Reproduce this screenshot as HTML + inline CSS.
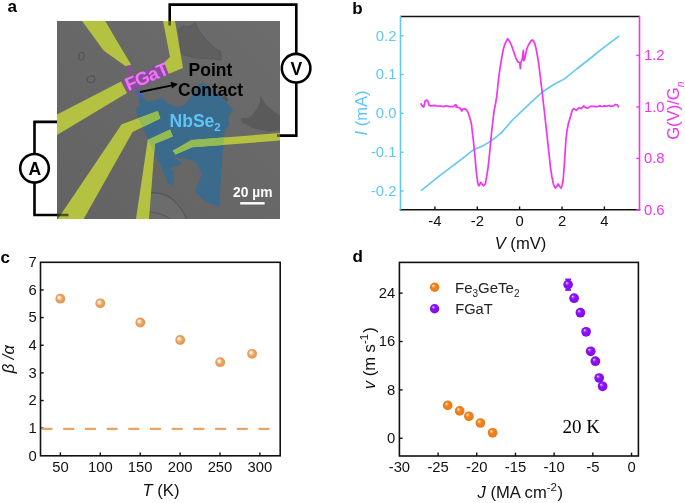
<!DOCTYPE html>
<html><head><meta charset="utf-8"><title>figure</title>
<style>
html,body{margin:0;padding:0;background:#fff;}
body{width:685px;height:503px;overflow:hidden;font-family:"Liberation Sans", sans-serif;}
svg{display:block;will-change:transform;}
</style></head>
<body>
<svg width="685" height="503" viewBox="0 0 685 503">
<rect width="685" height="503" fill="#fff"/>
<defs>
<radialGradient id="gc" cx="0.5" cy="0.5" r="0.5" fx="0.33" fy="0.33">
 <stop offset="0" stop-color="#fffcf8"/>
 <stop offset="0.3" stop-color="#f8dcc0"/>
 <stop offset="0.55" stop-color="#eca466"/>
 <stop offset="1" stop-color="#e39450"/>
</radialGradient>
<radialGradient id="go" cx="0.5" cy="0.5" r="0.5" fx="0.33" fy="0.3">
 <stop offset="0" stop-color="#fff4e6"/>
 <stop offset="0.22" stop-color="#f8b46c"/>
 <stop offset="0.45" stop-color="#f0801e"/>
 <stop offset="1" stop-color="#ec7a18"/>
</radialGradient>
<radialGradient id="gp" cx="0.5" cy="0.5" r="0.5" fx="0.33" fy="0.3">
 <stop offset="0" stop-color="#f6ecff"/>
 <stop offset="0.2" stop-color="#b562ff"/>
 <stop offset="0.42" stop-color="#8c12f6"/>
 <stop offset="1" stop-color="#820cee"/>
</radialGradient>
<linearGradient id="bgg" x1="0" y1="1" x2="1" y2="0"><stop offset="0" stop-color="#636363"/><stop offset="1" stop-color="#6c6c6c"/></linearGradient>
<clipPath id="mclip"><rect x="57" y="21" width="223" height="198"/></clipPath>
</defs>
<text x="7.6" y="11.6" font-size="17" fill="#000" text-anchor="start" font-weight="bold" font-style="normal" font-family='"Liberation Sans", sans-serif' >a</text>
<g clip-path="url(#mclip)">
<rect x="57" y="21" width="223" height="198" fill="url(#bgg)"/>
<polygon points="178.7,29.2 183.3,26.1 189.4,26.6 195.5,23.1 198.6,30.2 205.8,39.4 213.9,47.6 220.6,51.7 221.1,59.9 210.9,58.8 195.5,57.8 183.3,54.7 181.2,52.7" fill="#5f5f5f" stroke="#545454" stroke-width="0.7"/>
<polygon points="260,95.3 266.6,105.2 274.2,111.7 280,115 280,130.3 268.7,131.4 252.3,128.1 242.5,122.6 240.3,118.3 249,117.7 253.4,113.9 257.8,107.3 260,101.9" fill="#5a5a5a" />
<g fill="none" stroke="#4a4a4a" stroke-width="0.8"><path d="M79,54 Q80,52 83,52.5 Q85,55 83.5,59 Q81,61 79,59.5 Z"/><path d="M87,78 Q90,75 94,76 Q96,79 94,82 Q90,84 87.5,81.5 Z"/></g>
<polygon points="150,192.5 162,194 171.3,198.4 177,202 181.8,208 185,213 187.5,219 150,219" fill="#6c6c6c" />
<path d="M151,192.6 Q165,193 172,199 Q180,205 187,219" fill="none" stroke="#4e4e4e" stroke-width="1"/>
<path d="M150,212 Q162,213 170,219" fill="none" stroke="#555" stroke-width="1"/>
<polygon points="220.5,97.5 225.5,95.8 228.5,100 224.5,103" fill="#565656" />
<g id="flake">
<polygon points="138.8,96.5 143.1,97.3 147.5,102.1 162.4,98.1 166.8,102.5 172,105.6 179,106.9 184.3,104.7 190,98.1 199,84 204,83 217,93 226,101 233,110.5 228,117.5 229.5,125 225,130 223,148 220.5,184 219.5,207 205,201.5 194.5,191 199,182 201.5,175 197,163 189,159.5 173,157 181,162.5 180,165 169.5,168.5 173,171 174,178 173,185.5 167.5,183 161,166 155,155 148,139 142,126 137,116.5 136.1,108.2 139.6,106" fill="#3a6b8d" />
</g>
<polygon points="82,21 105.3,21 118.7,43.9 131.2,64.7 125.7,66.3 103.8,50.8" fill="#b4c141" />
<polygon points="163,21 175,21 183,68 168.6,74 164,62.8 170,57" fill="#b4c141" />
<polygon points="57,114.5 121,81.5 127,93 57,135" fill="#b4c141" />
<polygon points="57.5,219.5 121.7,124.2 157.8,111.1 160.3,118.6 132.6,131.9 83.4,219.5" fill="#b4c141" />
<polygon points="135.9,219.5 147.7,140 170,129.4 172.8,136.5 154.9,143.7 149,219.5" fill="#b4c141" />
<polygon points="280,133 280,140.6 192.4,147.3 175.5,154.4 172.8,150.8 191.6,140" fill="#b4c141" />
<clipPath id="fclip"><polygon points="138.8,96.5 143.1,97.3 147.5,102.1 162.4,98.1 166.8,102.5 172,105.6 179,106.9 184.3,104.7 190,98.1 199,84 204,83 217,93 226,101 233,110.5 228,117.5 229.5,125 225,130 223,148 220.5,184 219.5,207 205,201.5 194.5,191 199,182 201.5,175 197,163 189,159.5 173,157 181,162.5 180,165 169.5,168.5 173,171 174,178 173,185.5 167.5,183 161,166 155,155 148,139 142,126 137,116.5 136.1,108.2 139.6,106"/></clipPath>
<g clip-path="url(#fclip)">
<polygon points="82,21 105.3,21 118.7,43.9 131.2,64.7 125.7,66.3 103.8,50.8" fill="#93bb55" />
<polygon points="163,21 175,21 183,68 168.6,74 164,62.8 170,57" fill="#93bb55" />
<polygon points="57,114.5 121,81.5 127,93 57,135" fill="#93bb55" />
<polygon points="57.5,219.5 121.7,124.2 157.8,111.1 160.3,118.6 132.6,131.9 83.4,219.5" fill="#93bb55" />
<polygon points="135.9,219.5 147.7,140 170,129.4 172.8,136.5 154.9,143.7 149,219.5" fill="#93bb55" />
<polygon points="280,133 280,140.6 192.4,147.3 175.5,154.4 172.8,150.8 191.6,140" fill="#93bb55" />
</g>
<polygon points="126.3,66 131.5,65.3 132.8,76 130.8,77" fill="#8c4c9e" />
<polygon points="122.2,80.7 164,62.8 168.6,74 127.3,92.9" fill="#8c4c9e" />
<polygon points="136,89 139.5,90 143.8,96.3 137.6,97.5" fill="#4a62b6" />
<text x="0" y="0" font-size="18.5" letter-spacing="-0.6" font-weight="bold" fill="#f274f6" font-family='"Liberation Sans", sans-serif' transform="translate(128.2,91.2) rotate(-22.6)">FGaT</text>
<text x="169.6" y="127.3" font-size="17.5" font-weight="bold" fill="#5ac6f6" font-family='"Liberation Sans", sans-serif'>NbSe<tspan font-size="11.5" dy="3.8">2</tspan></text>
<text x="188.6" y="76.0" font-size="17.5" fill="#000" text-anchor="start" font-weight="bold" font-style="normal" font-family='"Liberation Sans", sans-serif' >Point</text>
<text x="178.0" y="95.9" font-size="17.5" fill="#000" text-anchor="start" font-weight="bold" font-style="normal" font-family='"Liberation Sans", sans-serif' >Contact</text>
<line x1="140" y1="92" x2="172" y2="85.3" stroke="#000" stroke-width="1.8" />
<polygon points="178,84 170.5,81.8 172,88.5" fill="#000" />
<text x="233.0" y="197.3" font-size="13.8" fill="#fff" text-anchor="start" font-weight="bold" font-style="normal" font-family='"Liberation Sans", sans-serif' >20 µm</text>
<rect x="240.2" y="202.1" width="24.4" height="2.4" fill="#fff"/>
<g stroke="#000" stroke-width="2.6" opacity="0.55">
<line x1="169.7" y1="21" x2="169.7" y2="25.5"/>
<line x1="280" y1="135.6" x2="277" y2="135.6"/>
<line x1="57" y1="215" x2="68.5" y2="215"/>
</g>
</g>
<g fill="none" stroke="#000" stroke-width="2.6">
<path d="M169.7,21 V4.6 H296.3 V53.9"/>
<path d="M296.3,82.5 V135.6 H280"/>
<circle cx="296.1" cy="68.2" r="14.3"/>
<path d="M57,121.9 H34.5 V154.1"/>
<path d="M34.5,182.5 V215 H57"/>
<circle cx="34.5" cy="168.3" r="14.3"/>
</g>
<text x="296.3" y="75.3" font-size="17.5" fill="#000" text-anchor="middle" font-weight="bold" font-style="normal" font-family='"Liberation Sans", sans-serif' >V</text>
<text x="34.8" y="174.6" font-size="17.5" fill="#000" text-anchor="middle" font-weight="bold" font-style="normal" font-family='"Liberation Sans", sans-serif' >A</text>
<text x="352.2" y="13.8" font-size="17" fill="#000" text-anchor="start" font-weight="bold" font-style="normal" font-family='"Liberation Sans", sans-serif' >b</text>
<line x1="400.5" y1="16.5" x2="639.5" y2="16.5" stroke="#111" stroke-width="1.6" />
<line x1="399.7" y1="209.8" x2="640.3" y2="209.8" stroke="#111" stroke-width="1.6" />
<line x1="400.5" y1="15.7" x2="400.5" y2="209.8" stroke="#62c7f3" stroke-width="1.6" />
<line x1="639.5" y1="15.7" x2="639.5" y2="210.60000000000002" stroke="#f035f0" stroke-width="1.6" />
<line x1="400.5" y1="35.7" x2="403.7" y2="35.7" stroke="#62c7f3" stroke-width="1.4" />
<text x="396.4" y="40.6" font-size="14.8" fill="#62c7f3" text-anchor="end" font-weight="normal" font-style="normal" font-family='"Liberation Sans", sans-serif' >0.2</text>
<line x1="400.5" y1="74.5" x2="403.7" y2="74.5" stroke="#62c7f3" stroke-width="1.4" />
<text x="396.4" y="79.4" font-size="14.8" fill="#62c7f3" text-anchor="end" font-weight="normal" font-style="normal" font-family='"Liberation Sans", sans-serif' >0.1</text>
<line x1="400.5" y1="113.3" x2="403.7" y2="113.3" stroke="#62c7f3" stroke-width="1.4" />
<text x="396.4" y="118.2" font-size="14.8" fill="#62c7f3" text-anchor="end" font-weight="normal" font-style="normal" font-family='"Liberation Sans", sans-serif' >0.0</text>
<line x1="400.5" y1="152.2" x2="403.7" y2="152.2" stroke="#62c7f3" stroke-width="1.4" />
<text x="396.4" y="157.1" font-size="14.8" fill="#62c7f3" text-anchor="end" font-weight="normal" font-style="normal" font-family='"Liberation Sans", sans-serif' >-0.1</text>
<line x1="400.5" y1="191.0" x2="403.7" y2="191.0" stroke="#62c7f3" stroke-width="1.4" />
<text x="396.4" y="195.9" font-size="14.8" fill="#62c7f3" text-anchor="end" font-weight="normal" font-style="normal" font-family='"Liberation Sans", sans-serif' >-0.2</text>
<line x1="636.3" y1="55.4" x2="639.5" y2="55.4" stroke="#f035f0" stroke-width="1.4" />
<text x="644.0" y="60.3" font-size="14.8" fill="#f035f0" text-anchor="start" font-weight="normal" font-style="normal" font-family='"Liberation Sans", sans-serif' >1.2</text>
<line x1="636.3" y1="106.9" x2="639.5" y2="106.9" stroke="#f035f0" stroke-width="1.4" />
<text x="644.0" y="111.80000000000001" font-size="14.8" fill="#f035f0" text-anchor="start" font-weight="normal" font-style="normal" font-family='"Liberation Sans", sans-serif' >1.0</text>
<line x1="636.3" y1="158.4" x2="639.5" y2="158.4" stroke="#f035f0" stroke-width="1.4" />
<text x="644.0" y="163.3" font-size="14.8" fill="#f035f0" text-anchor="start" font-weight="normal" font-style="normal" font-family='"Liberation Sans", sans-serif' >0.8</text>
<line x1="636.3" y1="209.8" x2="639.5" y2="209.8" stroke="#f035f0" stroke-width="1.4" />
<text x="644.0" y="214.70000000000002" font-size="14.8" fill="#f035f0" text-anchor="start" font-weight="normal" font-style="normal" font-family='"Liberation Sans", sans-serif' >0.6</text>
<line x1="434.9" y1="209.8" x2="434.9" y2="206.4" stroke="#111" stroke-width="1.4" />
<text x="434.9" y="226.4" font-size="14.8" fill="#111" text-anchor="middle" font-weight="normal" font-style="normal" font-family='"Liberation Sans", sans-serif' >-4</text>
<line x1="477.3" y1="209.8" x2="477.3" y2="206.4" stroke="#111" stroke-width="1.4" />
<text x="477.3" y="226.4" font-size="14.8" fill="#111" text-anchor="middle" font-weight="normal" font-style="normal" font-family='"Liberation Sans", sans-serif' >-2</text>
<line x1="519.6" y1="209.8" x2="519.6" y2="206.4" stroke="#111" stroke-width="1.4" />
<text x="519.6" y="226.4" font-size="14.8" fill="#111" text-anchor="middle" font-weight="normal" font-style="normal" font-family='"Liberation Sans", sans-serif' >0</text>
<line x1="562.0" y1="209.8" x2="562.0" y2="206.4" stroke="#111" stroke-width="1.4" />
<text x="562.0" y="226.4" font-size="14.8" fill="#111" text-anchor="middle" font-weight="normal" font-style="normal" font-family='"Liberation Sans", sans-serif' >2</text>
<line x1="604.4" y1="209.8" x2="604.4" y2="206.4" stroke="#111" stroke-width="1.4" />
<text x="604.4" y="226.4" font-size="14.8" fill="#111" text-anchor="middle" font-weight="normal" font-style="normal" font-family='"Liberation Sans", sans-serif' >4</text>
<text x="520.5" y="248.5" font-size="16.6" fill="#111" text-anchor="middle" font-family='"Liberation Sans", sans-serif'><tspan font-style="italic">V</tspan> (mV)</text>
<text transform="translate(367.3,113) rotate(-90)" font-size="16.6" fill="#62c7f3" text-anchor="middle" font-family='"Liberation Sans", sans-serif'><tspan font-style="italic">I</tspan> (mA)</text>
<text transform="translate(679,139.8) rotate(-90)" font-size="16.6" fill="#f035f0" text-anchor="start" font-family='"Liberation Sans", sans-serif'>G(V)/G<tspan font-size="10.5" font-style="italic" dy="4.8">n</tspan></text>
<polyline points="421.4,190.4 439.8,175.7 459,161.2 473.1,150.1 483.6,145.4 491.5,140.7 501.1,133.1 512.5,120 520,112.9 530,103.3 542.3,92 553,85 564.5,78.9 576,69.5 588.2,60 603,48.2 618.6,36.3" fill="none" stroke="#62c7f3" stroke-width="1.6" stroke-linejoin="round" stroke-linecap="round" />
<polyline points="421.1,104 422.5,106 423.8,107.1 424.5,104 425.1,101 426.4,100.1 427.3,100.6 428.1,101.4 428.6,103.5 429,105.3 431.2,105.8 434,105.4 436.9,105.9 440.4,106.2 443.9,106.6 446.5,105.8 450,106.6 453.5,106.6 455.3,104.9 456.6,105.4 457,106.4 456,107 458.8,107.5 460.5,108.8 461.8,111 463.2,108.8 465.3,108.8 467.1,110.6 468.2,113 469.3,116.3 470.4,120 471.5,124.2 472.3,131.8 473.3,140 474.3,149.7 475.2,159 475.9,167.6 476.7,175 477.5,181.5 478.2,184.5 478.9,185.8 480,184 480.9,182.5 482,184 483.4,185.8 484.5,185 485.4,183.5 486.6,177 487.8,169.5 488.8,161 489.8,151.7 490.8,141 491.8,129.8 493,120 494.2,110 495.5,104 496.8,96 497.6,88 498.4,80 499.6,71 500.9,62.8 502.1,55.5 503.4,48.9 504.6,45 505.9,41.9 507.7,38.7 509.9,41.9 511.3,45 512.8,48.9 514.3,53.5 515.8,57.8 517,60.5 518.3,62.3 519.8,62.8 520.3,68.7 520.8,62.8 522.3,58.8 523.3,50.4 523.8,60.8 524.8,58.8 525.8,53.5 526.8,48.9 528.2,45.5 529.7,42.9 531,41 532.2,39.9 533.5,41 534.7,43.4 535.7,47 536.7,51.9 537.7,57.5 538.7,63.8 539.7,71.5 540.7,80 542.3,93.4 544.3,111 546.4,129.6 548.5,149 550.6,168.6 552,177 553.4,183.9 554.4,186.5 555.4,188.1 556.7,186.5 558.1,183.9 559.6,186.5 561.2,188.1 562.2,185 563.2,179.7 564.5,162 565.9,140 567,131 568.1,124.8 570.3,116.9 572.4,109.9 573.8,108.6 576.4,110.3 579,107.7 581.2,108.6 583.8,105.9 585.6,107.7 587.8,108.1 590.4,106.4 593.9,106.4 596.5,106.8 600,105.9 602,106.5 604.4,105.9 606.5,106.3 608.8,105.5 610.5,106.3 612.3,106.2 614,105.5 615.4,104.5 617.5,105.1 618.4,106.8" fill="none" stroke="#f035f0" stroke-width="1.7" stroke-linejoin="round" stroke-linecap="round" />
<text x="0.6" y="262.7" font-size="17" fill="#000" text-anchor="start" font-weight="bold" font-style="normal" font-family='"Liberation Sans", sans-serif' >c</text>
<rect x="40.5" y="262.3" width="239.7" height="193.5" fill="none" stroke="#111" stroke-width="1.6"/>
<text x="36.8" y="460.7" font-size="14.8" fill="#111" text-anchor="end" font-weight="normal" font-style="normal" font-family='"Liberation Sans", sans-serif' >0</text>
<line x1="40.5" y1="428.15714285714284" x2="43.7" y2="428.15714285714284" stroke="#111" stroke-width="1.4" />
<text x="36.8" y="433.0571428571428" font-size="14.8" fill="#111" text-anchor="end" font-weight="normal" font-style="normal" font-family='"Liberation Sans", sans-serif' >1</text>
<line x1="40.5" y1="400.51428571428573" x2="43.7" y2="400.51428571428573" stroke="#111" stroke-width="1.4" />
<text x="36.8" y="405.4142857142857" font-size="14.8" fill="#111" text-anchor="end" font-weight="normal" font-style="normal" font-family='"Liberation Sans", sans-serif' >2</text>
<line x1="40.5" y1="372.87142857142857" x2="43.7" y2="372.87142857142857" stroke="#111" stroke-width="1.4" />
<text x="36.8" y="377.77142857142854" font-size="14.8" fill="#111" text-anchor="end" font-weight="normal" font-style="normal" font-family='"Liberation Sans", sans-serif' >3</text>
<line x1="40.5" y1="345.22857142857146" x2="43.7" y2="345.22857142857146" stroke="#111" stroke-width="1.4" />
<text x="36.8" y="350.12857142857143" font-size="14.8" fill="#111" text-anchor="end" font-weight="normal" font-style="normal" font-family='"Liberation Sans", sans-serif' >4</text>
<line x1="40.5" y1="317.5857142857143" x2="43.7" y2="317.5857142857143" stroke="#111" stroke-width="1.4" />
<text x="36.8" y="322.48571428571427" font-size="14.8" fill="#111" text-anchor="end" font-weight="normal" font-style="normal" font-family='"Liberation Sans", sans-serif' >5</text>
<line x1="40.5" y1="289.9428571428572" x2="43.7" y2="289.9428571428572" stroke="#111" stroke-width="1.4" />
<text x="36.8" y="294.84285714285716" font-size="14.8" fill="#111" text-anchor="end" font-weight="normal" font-style="normal" font-family='"Liberation Sans", sans-serif' >6</text>
<text x="36.8" y="267.2" font-size="14.8" fill="#111" text-anchor="end" font-weight="normal" font-style="normal" font-family='"Liberation Sans", sans-serif' >7</text>
<line x1="60.400000000000006" y1="455.8" x2="60.400000000000006" y2="452.40000000000003" stroke="#111" stroke-width="1.4" />
<text x="60.400000000000006" y="472.0" font-size="14.8" fill="#111" text-anchor="middle" font-weight="normal" font-style="normal" font-family='"Liberation Sans", sans-serif' >50</text>
<line x1="100.30000000000001" y1="455.8" x2="100.30000000000001" y2="452.40000000000003" stroke="#111" stroke-width="1.4" />
<text x="100.30000000000001" y="472.0" font-size="14.8" fill="#111" text-anchor="middle" font-weight="normal" font-style="normal" font-family='"Liberation Sans", sans-serif' >100</text>
<line x1="140.2" y1="455.8" x2="140.2" y2="452.40000000000003" stroke="#111" stroke-width="1.4" />
<text x="140.2" y="472.0" font-size="14.8" fill="#111" text-anchor="middle" font-weight="normal" font-style="normal" font-family='"Liberation Sans", sans-serif' >150</text>
<line x1="180.10000000000002" y1="455.8" x2="180.10000000000002" y2="452.40000000000003" stroke="#111" stroke-width="1.4" />
<text x="180.10000000000002" y="472.0" font-size="14.8" fill="#111" text-anchor="middle" font-weight="normal" font-style="normal" font-family='"Liberation Sans", sans-serif' >200</text>
<line x1="220.0" y1="455.8" x2="220.0" y2="452.40000000000003" stroke="#111" stroke-width="1.4" />
<text x="220.0" y="472.0" font-size="14.8" fill="#111" text-anchor="middle" font-weight="normal" font-style="normal" font-family='"Liberation Sans", sans-serif' >250</text>
<line x1="259.9" y1="455.8" x2="259.9" y2="452.40000000000003" stroke="#111" stroke-width="1.4" />
<text x="259.9" y="472.0" font-size="14.8" fill="#111" text-anchor="middle" font-weight="normal" font-style="normal" font-family='"Liberation Sans", sans-serif' >300</text>
<text x="161" y="495.8" font-size="16.6" fill="#111" text-anchor="middle" font-family='"Liberation Sans", sans-serif'><tspan font-style="italic">T</tspan> (K)</text>
<text transform="translate(14.4,359.2) rotate(-90)" font-size="16.6" fill="#111" text-anchor="middle" font-style="italic" font-family='"Liberation Sans", sans-serif'>β /α</text>
<line x1="41.5" y1="428.9" x2="270" y2="428.9" stroke="#eca466" stroke-width="2.3" stroke-dasharray="11 10.7"/>
<circle cx="60.3" cy="298.7" r="4.9" fill="url(#gc)"/>
<circle cx="100.3" cy="303.3" r="4.9" fill="url(#gc)"/>
<circle cx="140.3" cy="322.5" r="4.9" fill="url(#gc)"/>
<circle cx="180.2" cy="340" r="4.9" fill="url(#gc)"/>
<circle cx="220.2" cy="362.2" r="4.9" fill="url(#gc)"/>
<circle cx="252.1" cy="353.8" r="4.9" fill="url(#gc)"/>
<text x="352.4" y="262.2" font-size="17" fill="#000" text-anchor="start" font-weight="bold" font-style="normal" font-family='"Liberation Sans", sans-serif' >d</text>
<rect x="399.4" y="262.4" width="239.0" height="193.60000000000002" fill="none" stroke="#111" stroke-width="1.6"/>
<line x1="399.4" y1="438.3" x2="402.59999999999997" y2="438.3" stroke="#111" stroke-width="1.4" />
<text x="395.3" y="443.2" font-size="14.8" fill="#111" text-anchor="end" font-weight="normal" font-style="normal" font-family='"Liberation Sans", sans-serif' >0</text>
<line x1="399.4" y1="389.90000000000003" x2="402.59999999999997" y2="389.90000000000003" stroke="#111" stroke-width="1.4" />
<text x="395.3" y="394.8" font-size="14.8" fill="#111" text-anchor="end" font-weight="normal" font-style="normal" font-family='"Liberation Sans", sans-serif' >8</text>
<line x1="399.4" y1="341.5" x2="402.59999999999997" y2="341.5" stroke="#111" stroke-width="1.4" />
<text x="395.3" y="346.4" font-size="14.8" fill="#111" text-anchor="end" font-weight="normal" font-style="normal" font-family='"Liberation Sans", sans-serif' >16</text>
<line x1="399.4" y1="293.1" x2="402.59999999999997" y2="293.1" stroke="#111" stroke-width="1.4" />
<text x="395.3" y="298.0" font-size="14.8" fill="#111" text-anchor="end" font-weight="normal" font-style="normal" font-family='"Liberation Sans", sans-serif' >24</text>
<text x="399.4" y="471.8" font-size="14.8" fill="#111" text-anchor="middle" font-weight="normal" font-style="normal" font-family='"Liberation Sans", sans-serif' >-30</text>
<line x1="438.085" y1="456.0" x2="438.085" y2="452.6" stroke="#111" stroke-width="1.4" />
<text x="438.085" y="471.8" font-size="14.8" fill="#111" text-anchor="middle" font-weight="normal" font-style="normal" font-family='"Liberation Sans", sans-serif' >-25</text>
<line x1="476.77" y1="456.0" x2="476.77" y2="452.6" stroke="#111" stroke-width="1.4" />
<text x="476.77" y="471.8" font-size="14.8" fill="#111" text-anchor="middle" font-weight="normal" font-style="normal" font-family='"Liberation Sans", sans-serif' >-20</text>
<line x1="515.4549999999999" y1="456.0" x2="515.4549999999999" y2="452.6" stroke="#111" stroke-width="1.4" />
<text x="515.4549999999999" y="471.8" font-size="14.8" fill="#111" text-anchor="middle" font-weight="normal" font-style="normal" font-family='"Liberation Sans", sans-serif' >-15</text>
<line x1="554.14" y1="456.0" x2="554.14" y2="452.6" stroke="#111" stroke-width="1.4" />
<text x="554.14" y="471.8" font-size="14.8" fill="#111" text-anchor="middle" font-weight="normal" font-style="normal" font-family='"Liberation Sans", sans-serif' >-10</text>
<line x1="592.825" y1="456.0" x2="592.825" y2="452.6" stroke="#111" stroke-width="1.4" />
<text x="592.825" y="471.8" font-size="14.8" fill="#111" text-anchor="middle" font-weight="normal" font-style="normal" font-family='"Liberation Sans", sans-serif' >-5</text>
<line x1="631.51" y1="456.0" x2="631.51" y2="452.6" stroke="#111" stroke-width="1.4" />
<text x="631.51" y="471.8" font-size="14.8" fill="#111" text-anchor="middle" font-weight="normal" font-style="normal" font-family='"Liberation Sans", sans-serif' >0</text>
<text x="477.6" y="497.8" font-size="16.6" fill="#111" font-family='"Liberation Sans", sans-serif'><tspan font-style="italic">J</tspan> (MA cm<tspan font-size="11.5" dy="-6.5">-2</tspan><tspan dx="0.6" dy="6.5">)</tspan></text>
<text transform="translate(374.6,358.3) rotate(-90)" font-size="16.6" fill="#111" text-anchor="middle" font-family='"Liberation Sans", sans-serif'><tspan font-style="italic">v</tspan> (m s<tspan font-size="11.5" dy="-6.5">-1</tspan><tspan dx="1" dy="6.5">)</tspan></text>
<circle cx="434.6" cy="287.2" r="4.7" fill="url(#go)"/>
<circle cx="434.6" cy="308.7" r="4.7" fill="url(#gp)"/>
<text x="455" y="293.1" font-size="15" fill="#222" font-family='"Liberation Sans", sans-serif'>Fe<tspan font-size="10" dy="3.5">3</tspan><tspan dy="-3.5">GeTe</tspan><tspan font-size="10" dy="3.5">2</tspan></text>
<text x="455.2" y="313.8" font-size="14.7" fill="#222" text-anchor="start" font-weight="normal" font-style="normal" font-family='"Liberation Sans", sans-serif' >FGaT</text>
<text x="562.5" y="432.5" font-size="19" fill="#000" text-anchor="start" font-weight="normal" font-style="normal" font-family='"Liberation Serif", serif' >20 K</text>
<circle cx="447.7" cy="405.4" r="4.85" fill="url(#go)"/>
<circle cx="459.7" cy="410.9" r="4.85" fill="url(#go)"/>
<circle cx="468.9" cy="416.3" r="4.85" fill="url(#go)"/>
<circle cx="480.4" cy="423" r="4.85" fill="url(#go)"/>
<circle cx="492.6" cy="432.8" r="4.85" fill="url(#go)"/>
<g stroke="#8c12f6" stroke-width="1.8"><line x1="565.2" y1="279.4" x2="571" y2="279.4"/><line x1="565.2" y1="290" x2="571" y2="290"/><line x1="568.1" y1="279.4" x2="568.1" y2="290"/></g>
<circle cx="568.1" cy="284.6" r="4.85" fill="url(#gp)"/>
<circle cx="574.1" cy="298.2" r="4.85" fill="url(#gp)"/>
<circle cx="580.4" cy="312.7" r="4.85" fill="url(#gp)"/>
<circle cx="586.1" cy="331.8" r="4.85" fill="url(#gp)"/>
<circle cx="590.7" cy="351.3" r="4.85" fill="url(#gp)"/>
<circle cx="595.4" cy="361.2" r="4.85" fill="url(#gp)"/>
<circle cx="599.2" cy="378" r="4.85" fill="url(#gp)"/>
<circle cx="602.6" cy="386.3" r="4.85" fill="url(#gp)"/>
</svg>
</body></html>
